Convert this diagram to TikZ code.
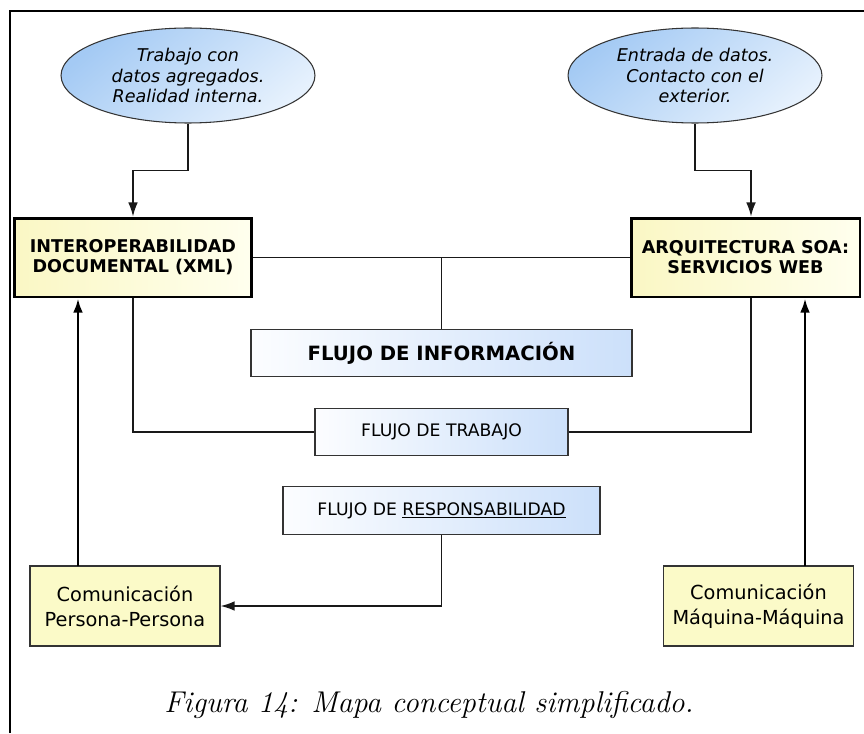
\documentclass[tikz,border=0pt]{standalone}
\usepackage{fontspec}
\newfontfamily\dejavu{DejaVu Sans}
\usetikzlibrary{arrows.meta,shapes.geometric}
\definecolor{ellblue}{RGB}{164,202,244}
\definecolor{ellpale}{RGB}{230,241,253}
\definecolor{flowblue}{RGB}{204,224,250}
\definecolor{flowpale}{RGB}{252,253,255}
\definecolor{noteyellow}{RGB}{250,247,196}
\definecolor{notepale}{RGB}{255,255,238}
\definecolor{commyellow}{RGB}{251,250,200}

\begin{document}
\begin{tikzpicture}[x=0.02cm, y=-0.02cm,
    idea/.style={ellipse, draw=black!80, line width=0.6pt,
        top color=ellblue, bottom color=ellpale, shading angle=40,
        minimum width=5.08cm, minimum height=1.9cm, inner sep=1pt,
        align=center, font=\dejavu\itshape\fontsize{10}{11.7}\selectfont},
    concept/.style={rectangle, draw=black, line width=1.7pt,
        left color=noteyellow, right color=notepale,
        minimum height=1.58cm, align=center,
        font=\dejavu\bfseries\fontsize{10}{11.4}\selectfont},
    flow/.style={rectangle, draw=black!80, line width=0.8pt,
        left color=flowpale, right color=flowblue,
        minimum height=0.95cm, align=center,
        font=\dejavu\fontsize{9.8}{12}\selectfont},
    comm/.style={rectangle, draw=black!80, line width=0.7pt,
        fill=commyellow, minimum width=3.8cm, minimum height=1.6cm,
        align=center, font=\dejavu\fontsize{11}{14.2}\selectfont},
    link/.style={draw=black!90, line width=0.85pt},
    arr/.style={link, -{Latex[length=8pt,width=5.5pt]}},
    uparr/.style={draw=black, line width=1.4pt, -{Latex[length=8pt,width=5.5pt]}}]

    \useasboundingbox (0,0) rectangle (864,733);

    % Frame (only the left and top edges are on the page)
    \draw[line width=1.2pt] (10,733) -- (10,11) -- (864,11);

    % Ideas
    \node[idea] (inner) at (188,75.5) {Trabajo con\\datos agregados.\\Realidad interna.};
    \node[idea] (outer) at (695,75.5) {Entrada de datos.\\Contacto con el\\exterior.};

    % Main concepts
    \node[concept, minimum width=4.76cm] (interop) at (133,257.5) {INTEROPERABILIDAD\\DOCUMENTAL (XML)};
    \node[concept, minimum width=4.58cm] (soa) at (745.5,257.5) {ARQUITECTURA SOA:\\SERVICIOS WEB};

    % Flows
    \node[flow, minimum width=7.62cm, font=\dejavu\bfseries\fontsize{11.2}{13}\selectfont] (info) at (441.5,353) {FLUJO DE INFORMACIÓN};
    \node[flow, minimum width=5.06cm] (work) at (441.5,432) {FLUJO DE TRABAJO};
    \node[flow, minimum width=6.34cm] (resp) at (441.5,510.5) {FLUJO DE \underline{RESPONSABILIDAD}};

    % Communication
    \node[comm] (person) at (125,606) {Comunicación\\Persona-Persona};
    \node[comm] (machine) at (758.5,606) {Comunicación\\Máquina-Máquina};
    \coordinate (pfoot) at (78,566);
    \coordinate (mfoot) at (805,566);

    % Ideas into concepts
    \draw[arr] (inner.south) -- ++(0,47) -| (interop.north);
    \draw[arr] (outer.south) -- ++(0,47) -| ([xshift=0.11cm]soa.north);

    % Information flow
    \draw[link] (interop) -- (soa);
    \draw[link] (info.north) -- (info.north |- interop.east);

    % Work flow
    \draw[link] (interop.south) |- (work.west);
    \draw[link] (work.east) -| ([xshift=0.11cm]soa.south);

    % Responsibility flow
    \draw[arr] (resp.south) |- (person.east);

    % Communication up to concepts
    \draw[uparr] (pfoot) -- (pfoot |- interop.south);
    \draw[uparr] (mfoot) -- (mfoot |- soa.south);

    % Caption
    \node[font=\itshape\fontsize{17.1}{19}\selectfont] (caption) at (429,705) {Figura 14: Mapa conceptual simplificado.};
\end{tikzpicture}
\end{document}
